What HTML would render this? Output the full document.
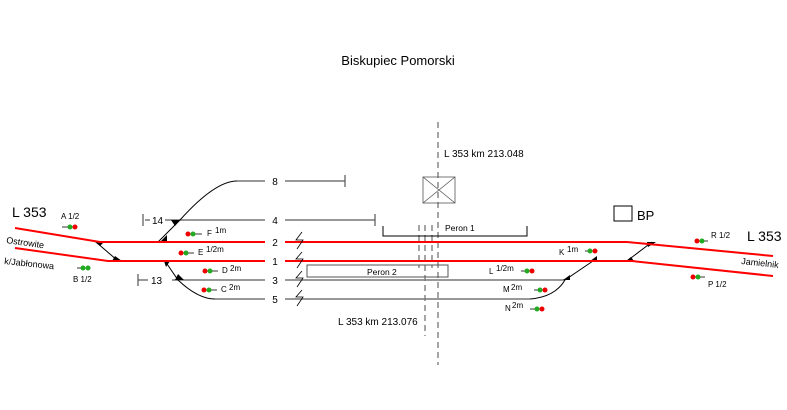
<!DOCTYPE html>
<html><head><meta charset="utf-8"><style>
html,body{margin:0;padding:0;background:#fff;}
svg{display:block;font-family:"Liberation Sans",Arial,sans-serif;}
</style></head><body>
<svg width="787" height="410" viewBox="0 0 787 410" xmlns="http://www.w3.org/2000/svg">
<rect width="787" height="410" fill="#fff"/>
<text x="398" y="65" font-size="13" text-anchor="middle" fill="#000">Biskupiec Pomorski</text>

<g stroke="#000" stroke-width="0.7" stroke-dasharray="6,4" fill="none">
<line x1="438" y1="122" x2="438" y2="365"/>
<line x1="425" y1="225" x2="425" y2="336"/>
<line x1="419" y1="225" x2="419" y2="268"/>
<line x1="432" y1="225" x2="432" y2="268"/>
</g>
<text x="444" y="157" font-size="10" fill="#000">L 353  km  213.048</text>
<text x="338" y="325" font-size="10" fill="#000">L 353  km  213.076</text>

<rect x="423" y="177" width="32" height="26" fill="none" stroke="#555" stroke-width="0.8"/>
<line x1="423" y1="177" x2="455" y2="203" stroke="#555" stroke-width="0.8"/>
<line x1="455" y1="177" x2="423" y2="203" stroke="#555" stroke-width="0.8"/>

<rect x="614" y="206" width="18" height="15" fill="none" stroke="#000" stroke-width="1"/>
<text x="637" y="220" font-size="13" fill="#000">BP</text>

<polyline points="383,226 383,236 527,236 527,226" fill="none" stroke="#000" stroke-width="1"/>
<text x="445" y="231" font-size="8.5" fill="#000">Peron 1</text>
<rect x="307" y="265" width="141" height="12" fill="none" stroke="#555" stroke-width="1"/>
<text x="367" y="275" font-size="8.5" fill="#000">Peron 2</text>

<g stroke="#777" stroke-width="1.5" fill="none">
<line x1="175" y1="220" x2="265" y2="220"/>
<line x1="285" y1="220" x2="375" y2="220"/>
<line x1="237" y1="181" x2="265" y2="181"/>
<line x1="285" y1="181" x2="345" y2="181"/>
<line x1="172" y1="280" x2="265" y2="280"/>
<line x1="285" y1="280" x2="565" y2="280"/>
<line x1="215" y1="299" x2="265" y2="299"/>
<line x1="285" y1="299" x2="530" y2="299"/>
<line x1="145" y1="220" x2="150" y2="220"/>
<line x1="165" y1="220" x2="175" y2="220"/>
</g>
<g stroke="#555" stroke-width="1.2">
<line x1="375" y1="214" x2="375" y2="226"/>
<line x1="345" y1="175" x2="345" y2="187"/>
<line x1="143" y1="214" x2="143" y2="226"/>
<line x1="138" y1="274" x2="138" y2="286"/>
<line x1="138" y1="280" x2="148" y2="280"/>
</g>
<text x="152" y="224" font-size="10">14</text>
<text x="151" y="284" font-size="10">13</text>
<g font-size="10" text-anchor="middle">
<text x="275" y="185">8</text><text x="275" y="224">4</text>
<text x="275" y="246">2</text><text x="275" y="265">1</text>
<text x="275" y="284">3</text><text x="275" y="303">5</text>
</g>

<g stroke="#000" stroke-width="1" fill="none">
<path d="M158,242 L180,220 Q215,181 237,181"/>
<path d="M96,242 L118,261"/>
<path d="M165,261 L178,280 Q198,299 215,299"/>
<path d="M530,299 Q555,297 565,280 L593,261"/>
<path d="M627,261 L652,242"/>
</g>
<g fill="#000">
<polygon points="160,242 167,242 167,235"/>
<polygon points="171,220 180,220 175,226"/>
<polygon points="95,242 104,242 100,246"/>
<polygon points="112,261 122,261 115,256"/>
<polygon points="164,261 170,261 166,267"/>
<polygon points="175,280 184,280 178,274"/>
<polygon points="563,280 570,280 570,275"/>
<polygon points="590,261 597,261 597,256"/>
<polygon points="626,261 634,261 631,257"/>
<polygon points="647,242 656,242 648,247"/>
</g>

<g stroke="#f00" stroke-width="2" fill="none">
<polyline points="15,228 100,242 265,242"/>
<line x1="285" y1="242" x2="627" y2="242"/>
<polyline points="15,248 108,261 265,261"/>
<line x1="285" y1="261" x2="632" y2="261"/>
<line x1="627" y1="242" x2="773" y2="256"/>
<line x1="632" y1="261" x2="773" y2="276"/>
</g>

<g stroke="#000" stroke-width="0.8" fill="none">
<polyline points="302,232 296,240 303,240 297,249"/>
<polyline points="302,252 296,259 303,259 297,268"/>
<polyline points="302,271 296,278 303,278 297,287"/>
<polyline points="302,290 296,297 303,297 297,306"/>
</g>

<text x="12" y="217" font-size="14">L 353</text>
<text x="6" y="243" font-size="9" transform="rotate(8 6 243)">Ostrowite</text>
<text x="4" y="264" font-size="9" transform="rotate(6 4 264)">k/Jabłonowa</text>
<text x="747" y="241" font-size="14">L 353</text>
<text x="741" y="264" font-size="9" transform="rotate(6 741 264)">Jamielnik</text>

<g font-size="8">
<text x="61" y="219">A 1/2</text>
<text x="73" y="282">B 1/2</text>
<text x="207" y="236">F</text><text x="215" y="233">1m</text>
<text x="198" y="255">E</text><text x="206" y="252">1/2m</text>
<text x="222" y="273">D</text><text x="230" y="271">2m</text>
<text x="221" y="292">C</text><text x="229" y="290">2m</text>
<text x="559" y="255">K</text><text x="567" y="252">1m</text>
<text x="489" y="274">L</text><text x="496" y="271">1/2m</text>
<text x="503" y="292">M</text><text x="511" y="290">2m</text>
<text x="505" y="311">N</text><text x="512" y="308">2m</text>
<text x="711" y="238">R 1/2</text>
<text x="708" y="287">P 1/2</text>
</g>

<g stroke="#000" stroke-width="0.8">
<line x1="62" y1="227" x2="68" y2="227"/>
<line x1="77" y1="268" x2="81" y2="268"/>
<line x1="195" y1="234" x2="202" y2="234"/>
<line x1="188" y1="253" x2="194" y2="253"/>
<line x1="212" y1="271" x2="218" y2="271"/>
<line x1="211" y1="290" x2="217" y2="290"/>
<line x1="585" y1="251" x2="588" y2="251"/>
<line x1="521" y1="271" x2="525" y2="271"/>
<line x1="534" y1="290" x2="538" y2="290"/>
<line x1="530" y1="309" x2="535" y2="309"/>
<line x1="703" y1="241" x2="708" y2="241"/>
<line x1="699" y1="277" x2="705" y2="277"/>
</g>
<g>
<circle cx="70" cy="227" r="2.5" fill="#2a2"/><circle cx="75" cy="227" r="2.5" fill="#e00"/>
<circle cx="83" cy="268" r="2.5" fill="#2a2"/><circle cx="88" cy="268" r="2.5" fill="#2a2"/>
<circle cx="188" cy="234" r="2.5" fill="#e00"/><circle cx="193" cy="234" r="2.5" fill="#2a2"/>
<circle cx="181" cy="253" r="2.5" fill="#e00"/><circle cx="186" cy="253" r="2.5" fill="#2a2"/>
<circle cx="205" cy="271" r="2.5" fill="#e00"/><circle cx="210" cy="271" r="2.5" fill="#2a2"/>
<circle cx="204" cy="290" r="2.5" fill="#e00"/><circle cx="209" cy="290" r="2.5" fill="#2a2"/>
<circle cx="590" cy="251" r="2.5" fill="#2a2"/><circle cx="595" cy="251" r="2.5" fill="#e00"/>
<circle cx="527" cy="271" r="2.5" fill="#2a2"/><circle cx="532" cy="271" r="2.5" fill="#e00"/>
<circle cx="540" cy="290" r="2.5" fill="#2a2"/><circle cx="545" cy="290" r="2.5" fill="#e00"/>
<circle cx="537" cy="309" r="2.5" fill="#2a2"/><circle cx="542" cy="309" r="2.5" fill="#e00"/>
<circle cx="697" cy="241" r="2.5" fill="#e00"/><circle cx="702" cy="241" r="2.5" fill="#2a2"/>
<circle cx="693" cy="277" r="2.5" fill="#e00"/><circle cx="698" cy="277" r="2.5" fill="#2a2"/>
</g>
</svg>
</body></html>
